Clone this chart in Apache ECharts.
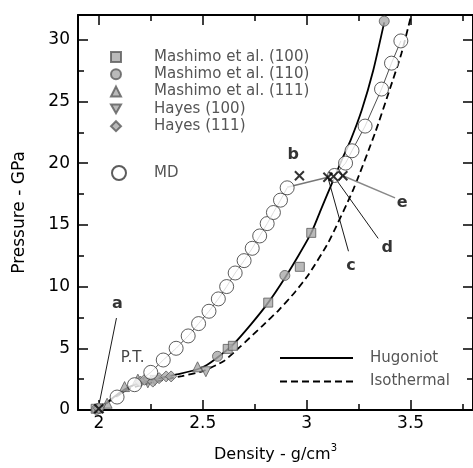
<!DOCTYPE html>
<html>
<head>
<meta charset="utf-8">
<script src="https://cdn.jsdelivr.net/npm/echarts@6/dist/echarts.min.js"></script>
<style>html,body{margin:0;padding:0;background:#fff;}#c{width:473px;height:468px;}</style>
</head>
<body>
<div id="c"></div>
<script>
// ---- tick values ----
const xMajor = [2, 2.5, 3, 3.5];
const xMinor = [2.25, 2.75, 3.25, 3.75];
const yMajor = [0, 5, 10, 15, 20, 25, 30];
const yMinor = [2.5, 7.5, 12.5, 17.5, 22.5, 27.5];

// ---- curves ----
const hugoniot = [[1.995,0],[2.02,0.35],[2.05,0.75],[2.1,1.4],[2.15,1.9],[2.2,2.2],[2.25,2.42],[2.3,2.6],[2.38,2.9],[2.475,3.3],[2.52,3.65],[2.571,4.25],[2.643,5.25],[2.73,6.9],[2.815,8.7],[2.895,10.7],[2.96,12.5],[3.022,14.35],[3.07,16.3],[3.12,18.3],[3.17,20.3],[3.21,21.8],[3.265,24.3],[3.32,27.5],[3.373,31.4]];
const isothermal = [[1.995,0],[2.05,0.7],[2.1,1.3],[2.15,1.75],[2.2,2.0],[2.3,2.4],[2.4,2.75],[2.5,3.15],[2.6,3.95],[2.675,5.05],[2.786,6.8],[2.866,8.1],[2.946,9.6],[3.01,11.0],[3.105,13.6],[3.225,17.9],[3.33,22.5],[3.4,26.0],[3.456,28.9],[3.503,32.0]];

// ---- MD simulation ----
const mdLow = [[2.088,1.05],[2.172,2.05],[2.25,3.05],[2.31,4.05],[2.372,5.0],[2.43,6.0],[2.48,7.0],[2.53,8.0],[2.575,9.0],[2.615,10.0],[2.656,11.1],[2.699,12.1],[2.738,13.1],[2.774,14.1],[2.81,15.1],[2.84,16.0],[2.874,17.0],[2.906,18.0]];
const mdHigh = [[3.134,19.0],[3.187,20.0],[3.218,21.0],[3.281,23.0],[3.36,26.0],[3.408,28.1],[3.453,29.9]];

// ---- experiments ----
const mashimo100 = [[1.985,0.1],[2.62,4.95],[2.645,5.2],[2.815,8.7],[2.967,11.6],[3.022,14.35]];
const mashimo110 = [[1.99,0.05],[2.571,4.35],[2.895,10.9],[3.373,31.5]];
const mashimo111 = [[2.0,0.2],[2.04,0.55],[2.124,1.9],[2.188,2.5],[2.475,3.5]];
const hayes100 = [[2.01,0.1],[2.236,2.2],[2.27,2.4],[2.515,3.1]];
const hayes111 = [[2.0,0.15],[2.2,2.3],[2.22,2.45],[2.26,2.3],[2.29,2.58],[2.324,2.72],[2.348,2.72]];

// ---- transition points (x marks) ----
const xMarks = [[2.0,0.1],[2.965,18.98],[3.102,18.85],[3.129,18.93],[3.174,18.98]];

// ---- annotations ----
const annoNames = ['a','b','c','d','e'];
const annoAt = [[2.089,8.6],[2.935,20.7],[3.213,11.7],[3.388,13.1],[3.459,16.8]];
const ptAt = [2.163,4.2];
const leadA = [[2.085,7.45],[1.997,0.08]];
const leadC = [[3.102,18.85],[3.201,12.86]];
const leadD = [[3.138,18.76],[3.344,13.9]];
const leadE = [[3.174,18.98],[3.425,17.18]];
const leadB = [[2.906,18.04],[3.102,18.85]];

const FONT = "'DejaVu Sans', sans-serif";
const XMIN = 1.9, XMAX = 3.8, YMIN = 0, YMAX = 32;
const DOWN_TRIANGLE = 'path://M0,0L20,0L10,17.3Z';
const X_SHAPE = 'path://M0,0L10,10M10,0L0,10';

const chart = echarts.init(document.getElementById('c'), null, {renderer:'canvas'});

function xAx(pos, vals, len, showLine, labels, extra) {
  return Object.assign({
    type:'value', position:pos, min:XMIN, max:XMAX,
    axisLine:{show:showLine, onZero:false, lineStyle:{color:'#000', width:2}},
    axisTick:{show:true, inside:true, length:len, customValues:vals, lineStyle:{color:'#000', width:1.5}},
    axisLabel:labels ? {show:true, customValues:vals, fontSize:17, fontFamily:FONT, color:'#000', margin:5} : {show:false},
    splitLine:{show:false}
  }, extra || {});
}
function yAx(pos, vals, len, showLine, labels, extra) {
  return Object.assign({
    type:'value', position:pos, min:YMIN, max:YMAX,
    axisLine:{show:showLine, onZero:false, lineStyle:{color:'#000', width:2}},
    axisTick:{show:true, inside:true, length:len, customValues:vals, lineStyle:{color:'#000', width:1.5}},
    axisLabel:labels ? {show:true, customValues:vals, fontSize:17, fontFamily:FONT, color:'#000', margin:8} : {show:false},
    splitLine:{show:false}
  }, extra || {});
}

const markerStyle = {color:'#a9a9a9', borderColor:'#5a5a5a', borderWidth:1};
function seg(name, data, color, width) {
  return {name:name, type:'line', data:data, symbol:'none', silent:true,
    lineStyle:{color:color, width:width}, z:3};
}

const option = {
  animation:false,
  backgroundColor:'#fff',
  grid:{left:78, right:-2, top:15, bottom:55.5, containLabel:false},
  xAxis:[
    xAx('bottom', xMajor, 10, true, true, {
      name:'{a|Density - g/cm}{s|3}', nameLocation:'middle', nameGap:33,
      nameTextStyle:{rich:{
        a:{fontSize:16, fontFamily:FONT, color:'#000', lineHeight:24},
        s:{fontSize:10, fontFamily:FONT, color:'#000', lineHeight:10, verticalAlign:'top'}
      }}
    }),
    xAx('bottom', xMinor, 6, false, false),
    xAx('top', xMajor, 10, true, false),
    xAx('top', xMinor, 6, false, false)
  ],
  yAxis:[
    yAx('left', yMajor, 10, true, true, {
      name:'Pressure - GPa', nameLocation:'middle', nameGap:50,
      nameTextStyle:{fontSize:17, fontFamily:FONT, color:'#000'}
    }),
    yAx('left', yMinor, 6, false, false),
    yAx('right', yMajor, 10, true, false),
    yAx('right', yMinor, 6, false, false)
  ],
  legend:[
    {data:['Mashimo et al. (100)','Mashimo et al. (110)','Mashimo et al. (111)','Hayes (100)','Hayes (111)'],
     orient:'vertical', left:110, top:49.5, padding:0, itemWidth:10, itemHeight:10, itemGap:2.3, selectedMode:false,
     textStyle:{fontSize:15, fontFamily:FONT, color:'#555', lineHeight:14, padding:[0,0,0,28]}},
    {data:['MD'], orient:'vertical', left:111, top:165, padding:0, itemWidth:14, itemHeight:14, selectedMode:false,
     textStyle:{fontSize:15, fontFamily:FONT, color:'#555', padding:[0,0,0,23]}},
    {data:['Hugoniot','Isothermal'], orient:'vertical', left:279, top:350.5, padding:0, itemWidth:73, itemHeight:14, itemGap:8.5, selectedMode:false,
     itemStyle:{opacity:0},
     textStyle:{fontSize:15, fontFamily:FONT, color:'#555', padding:[0,0,0,12]}}
  ],
  series:[
    {name:'Hugoniot', type:'line', data:hugoniot, symbol:'none', smooth:0.2, silent:true,
     lineStyle:{color:'#000', width:1.8}, z:2},
    {name:'Isothermal', type:'line', data:isothermal, symbol:'none', smooth:0.2, silent:true,
     lineStyle:{color:'#000', width:1.8, type:[7,4]}, z:2},
    seg('mdLineLow', mdLow, '#222', 0.8),
    seg('mdLineHigh', mdHigh, '#222', 0.8),
    seg('leadB', leadB, '#777', 1.5),
    seg('leadE', leadE, '#888', 1.5),
    seg('leadA', leadA, '#000', 0.9),
    seg('leadC', leadC, '#000', 0.9),
    seg('leadD', leadD, '#000', 0.9),
    {name:'Mashimo et al. (100)', type:'scatter', data:mashimo100, symbol:'rect', symbolSize:9, itemStyle:markerStyle, z:4},
    {name:'Mashimo et al. (110)', type:'scatter', data:mashimo110, symbol:'circle', symbolSize:10, itemStyle:markerStyle, z:4},
    {name:'Mashimo et al. (111)', type:'scatter', data:mashimo111, symbol:'triangle', symbolSize:10, itemStyle:markerStyle, z:4},
    {name:'Hayes (100)', type:'scatter', data:hayes100, symbol:DOWN_TRIANGLE, symbolSize:10, itemStyle:markerStyle, z:4},
    {name:'Hayes (111)', type:'scatter', data:hayes111, symbol:'diamond', symbolSize:11, itemStyle:markerStyle, z:4},
    {name:'MD', type:'scatter', data:mdLow.concat(mdHigh), symbol:'circle', symbolSize:14,
     itemStyle:{color:'#fff', borderColor:'#333', borderWidth:1}, z:5},
    {name:'transitions', type:'scatter', data:xMarks, symbol:X_SHAPE, symbolSize:9,
     itemStyle:{color:'none', borderColor:'#000', borderWidth:2}, z:6, silent:true},
    {name:'labels', type:'scatter', symbolSize:1, itemStyle:{color:'rgba(0,0,0,0)'}, z:7, silent:true,
     data:annoNames.map((n,i)=>({name:n, value:annoAt[i]})),
     label:{show:true, position:'inside', formatter:'{b}', fontSize:16, fontWeight:'bold', fontFamily:FONT, color:'#000'}},
    {name:'ptlabel', type:'scatter', symbolSize:1, itemStyle:{color:'rgba(0,0,0,0)'}, z:7, silent:true,
     data:[{name:'P.T.', value:ptAt}],
     label:{show:true, position:'inside', formatter:'{b}', fontSize:15, fontFamily:FONT, color:'#111'}}
  ]
};
chart.setOption(option);
</script>
</body>
</html>
